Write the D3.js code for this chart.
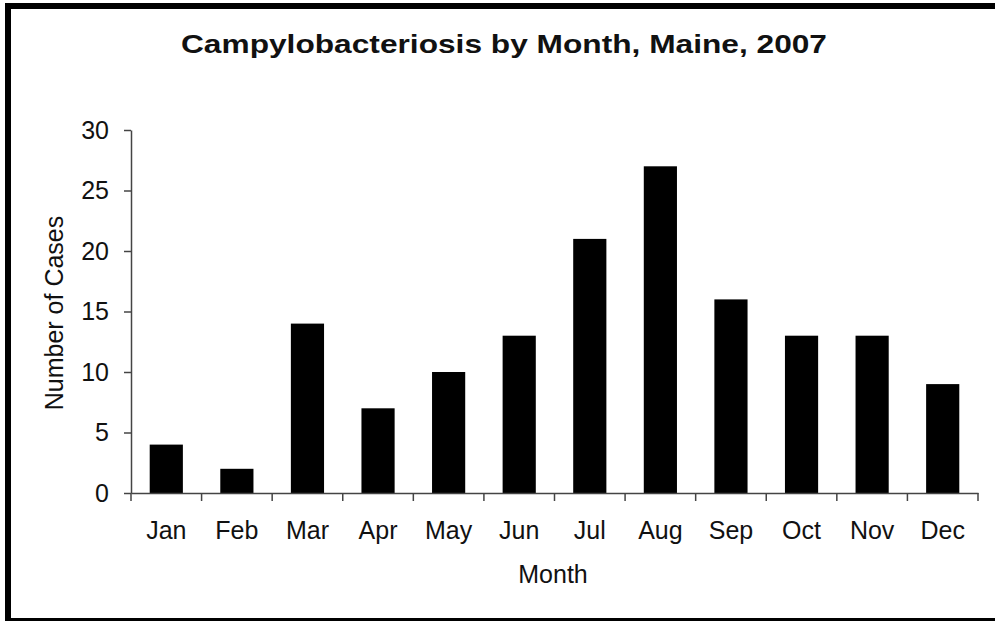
<!DOCTYPE html>
<html>
<head>
<meta charset="utf-8">
<script src="https://cdn.jsdelivr.net/npm/d3@7"></script>
<style>
  body { margin: 0; background: #fff; }
  text { font-family: "Liberation Sans", Arial, sans-serif; fill: #111; }
</style>
</head>
<body>
<div id="chart"></div>
<script>
// data
var months = ["Jan", "Feb", "Mar", "Apr", "May", "Jun", "Jul", "Aug", "Sep", "Oct", "Nov", "Dec"];
var cases = [4, 2, 14, 7, 10, 13, 21, 27, 16, 13, 13, 9];
var yTicks = [0, 5, 10, 15, 20, 25, 30];

var w = 995, h = 621;
// plot edges (not "top": that name is taken by window.top)
var plotLeft = 131, plotRight = 978, plotTop = 130, plotBottom = 493;

var svg = d3.select("#chart").append("svg")
    .attr("width", w)
    .attr("height", h);

// outer frame
svg.append("rect")
    .attr("x", 8).attr("y", 6)
    .attr("width", 1000).attr("height", 615)
    .style("fill", "white")
    .style("stroke", "black")
    .style("stroke-width", 6);

var x = d3.scaleBand()
    .domain(months)
    .range([plotLeft, plotRight])
    .paddingInner(0.53)
    .paddingOuter(0.265);

var y = d3.scaleLinear()
    .domain([0, 30])
    .range([plotBottom, plotTop]);

// bars
svg.selectAll("rect.bar")
    .data(cases)
    .enter()
    .append("rect")
    .attr("class", "bar")
    .attr("x", function (d, i) { return x(months[i]); })
    .attr("y", function (d) { return y(d); })
    .attr("width", x.bandwidth())
    .attr("height", function (d) { return y(0) - y(d); })
    .style("fill", "black");

// y axis
var yAxis = svg.append("g")
    .attr("transform", "translate(" + plotLeft + ",0)")
    .call(d3.axisLeft(y).tickValues(yTicks).tickSize(7).tickPadding(15).tickSizeOuter(0));

yAxis.select(".domain").style("stroke", "#444").style("stroke-width", 1.5);
yAxis.selectAll(".tick line").style("stroke", "#444").style("stroke-width", 1.5);
yAxis.selectAll(".tick text")
    .style("font-family", "'Liberation Sans', Arial, sans-serif")
    .style("font-size", "25px")
    .style("fill", "#111");

// x axis, labels at centres
var xAxis = svg.append("g")
    .attr("transform", "translate(0," + plotBottom + ")")
    .call(d3.axisBottom(x).tickSize(0).tickPadding(28).tickSizeOuter(0));

xAxis.select(".domain").style("stroke", "#444").style("stroke-width", 1.5);
xAxis.selectAll(".tick text")
    .style("font-family", "'Liberation Sans', Arial, sans-serif")
    .style("font-size", "25px")
    .style("fill", "#111");

// tick marks between the categories
var edges = d3.range(months.length + 1).map(function (i) { return plotLeft + i * x.step(); });
xAxis.selectAll("line.edge")
    .data(edges)
    .enter()
    .append("line")
    .attr("class", "edge")
    .attr("x1", function (d) { return d; })
    .attr("x2", function (d) { return d; })
    .attr("y1", 0)
    .attr("y2", 8)
    .style("stroke", "#444")
    .style("stroke-width", 1.5);

// titles
svg.append("text")
    .attr("x", 504)
    .attr("y", 53)
    .attr("text-anchor", "middle")
    .attr("textLength", 646)
    .attr("lengthAdjust", "spacingAndGlyphs")
    .style("font-size", "26px")
    .style("font-weight", "bold")
    .text("Campylobacteriosis by Month, Maine, 2007");

svg.append("text")
    .attr("x", 553)
    .attr("y", 583)
    .attr("text-anchor", "middle")
    .style("font-size", "25px")
    .text("Month");

svg.append("text")
    .attr("transform", "translate(63,313) rotate(-90)")
    .attr("text-anchor", "middle")
    .style("font-size", "25px")
    .text("Number of Cases");
</script>
</body>
</html>
